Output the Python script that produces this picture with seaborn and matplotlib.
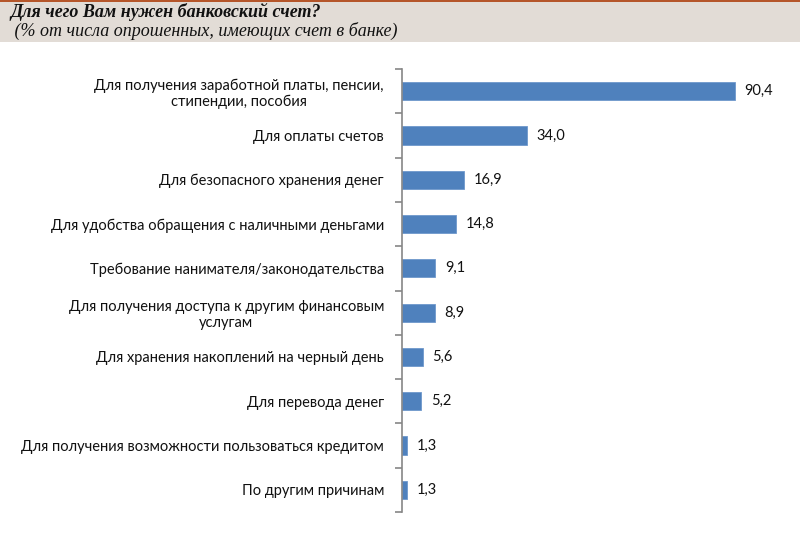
import numpy as np
import pandas as pd
import matplotlib
matplotlib.use("Agg")
import matplotlib.pyplot as plt
import seaborn as sns

categories = [
    "Для получения заработной платы, пенсии,\nстипендии, пособия",
    "Для оплаты счетов",
    "Для безопасного хранения денег",
    "Для удобства обращения с наличными деньгами",
    "Требование нанимателя/законодательства",
    "Для получения доступа к другим финансовым\nуслугам",
    "Для хранения накоплений на черный день",
    "Для перевода денег",
    "Для получения возможности пользоваться кредитом",
    "По другим причинам",
]
values = [90.4, 34.0, 16.9, 14.8, 9.1, 8.9, 5.6, 5.2, 1.3, 1.3]
labels = ["90,4", "34,0", "16,9", "14,8", "9,1", "8,9", "5,6", "5,2", "1,3", "1,3"]

title = "Для чего Вам нужен банковский счет?"
subtitle = " (% от числа опрошенных, имеющих счет в банке)"

df = pd.DataFrame({"cat": categories, "val": values})

sns.set_style("white")
plt.rcParams["font.family"] = ["Lato", "DejaVu Sans"]

fig = plt.figure(figsize=(8, 5.35), dpi=100)

# header band
fig.patches.append(plt.Rectangle((0, 1 - 42 / 535), 1, 42 / 535, transform=fig.transFigure,
                                 facecolor="#e2dcd6", edgecolor="none", zorder=0))
fig.patches.append(plt.Rectangle((0, 1 - 2 / 535), 1, 2 / 535, transform=fig.transFigure,
                                 facecolor="#b5562a", edgecolor="none", zorder=1))
fig.text(10 / 800, 1 - 12 / 535, title, family="Liberation Serif", style="italic",
         weight="bold", fontsize=13, va="center", ha="left", color="#111111")
fig.text(10 / 800, 1 - 31 / 535, subtitle, family="Liberation Serif", style="italic",
         fontsize=13, va="center", ha="left", color="#111111")

ax = fig.add_axes([402 / 800, 1 - 512 / 535, 368 / 800, 443 / 535])
sns.barplot(data=df, x="val", y="cat", orient="h", color="#4f81bd", saturation=1,
            width=0.41, edgecolor="#6f98cc", linewidth=0.6, ax=ax)

for i, (v, t) in enumerate(zip(values, labels)):
    ax.text(v + 2.6, i, t, va="center", ha="left", fontsize=10.5, color="#111111")

ax.set_xlim(0, 100)
ax.set_ylim(len(categories) - 0.5, -0.5)
ax.set_xlabel("")
ax.set_ylabel("")
ax.set_xticks([])
for s in ["top", "right", "bottom"]:
    ax.spines[s].set_visible(False)
ax.spines["left"].set_color("#868686")
ax.spines["left"].set_linewidth(1.2)

ax.set_yticks(np.arange(len(categories)))
ax.set_yticklabels(categories)
ax.set_yticks(np.arange(-0.5, len(categories), 1), minor=True)
ax.tick_params(axis="y", which="minor", length=5, width=1.2, color="#868686", left=True)
ax.tick_params(axis="y", which="major", length=0, pad=13, labelsize=10.5, labelcolor="#111111")

fig.canvas.draw()
for lab in ax.get_yticklabels():
    lab.set_multialignment("center")

fig.savefig("out.png", dpi=100)
